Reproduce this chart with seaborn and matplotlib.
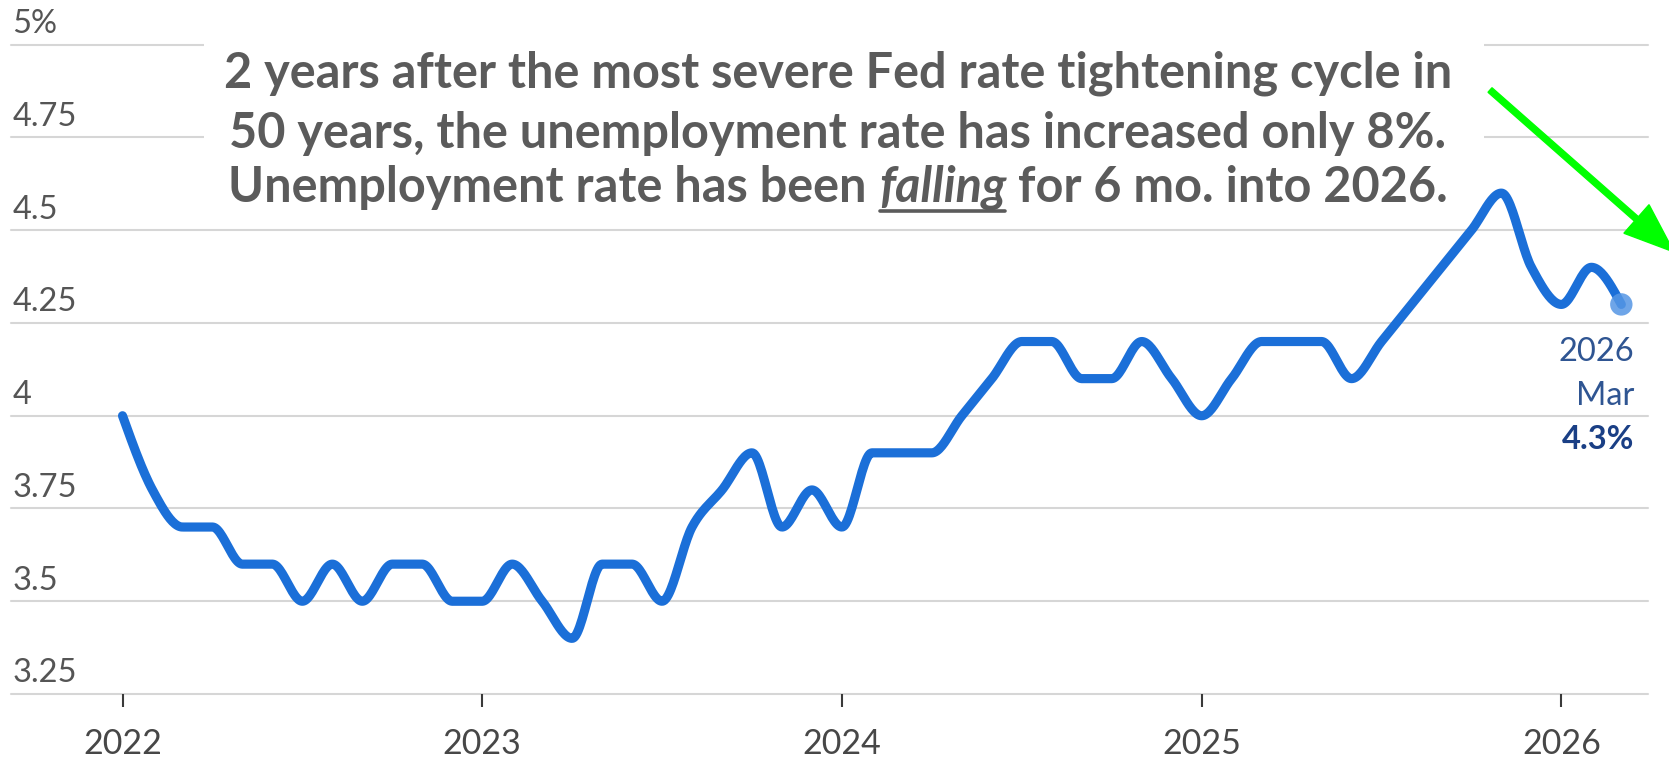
import numpy as np
import matplotlib
matplotlib.use("Agg")
import matplotlib.pyplot as plt
import seaborn as sns
from matplotlib.patches import FancyArrow, Rectangle
from matplotlib.lines import Line2D
from matplotlib.transforms import IdentityTransform

# Monthly U.S. unemployment rate (%), Jan 2022 - Mar 2026
rate = [4.0, 3.8, 3.7, 3.7, 3.6, 3.6, 3.5, 3.6, 3.5, 3.6, 3.6, 3.5,
        3.5, 3.6, 3.5, 3.4, 3.6, 3.6, 3.5, 3.7, 3.8, 3.9, 3.7, 3.8,
        3.7, 3.9, 3.9, 3.9, 4.0, 4.1, 4.2, 4.2, 4.1, 4.1, 4.2, 4.1,
        4.0, 4.1, 4.2, 4.2, 4.2, 4.1, 4.2, 4.3, 4.4, 4.5, 4.6, 4.4,
        4.3, 4.4, 4.3]
year_labels = ["2022", "2023", "2024", "2025", "2026"]
y_ticks = [3.25, 3.5, 3.75, 4.0, 4.25, 4.5, 4.75, 5.0]
y_tick_labels = ["3.25", "3.5", "3.75", "4", "4.25", "4.5", "4.75", "5%"]
last_period = ["2026", "Mar"]
last_value = "4.3%"
headline_1 = "2 years after the most severe Fed rate tightening cycle in"
headline_2 = "50 years, the unemployment rate has increased only 8%."
headline_3 = ["Unemployment rate has been", "falling", "for 6 mo. into 2026."]

LINE_BLUE = "#1b6fd8"
DOT_BLUE = "#5596e4"
GRID = "#d6d6d6"
TEXT_GREY = "#5b5b5b"
HEAD_SIZE = 35


def monotone_curve(values, samples=24):
    """Monotone cubic (d3 curveMonotoneX style) through evenly spaced points."""
    y = np.asarray(values, dtype=float)
    n = len(y)
    d = np.diff(y)
    m = np.zeros(n)
    for i in range(1, n - 1):
        s0, s1 = d[i - 1], d[i]
        p = 0.5 * (s0 + s1)
        m[i] = (np.sign(s0) + np.sign(s1)) * min(abs(s0), abs(s1), 0.5 * abs(p))
    m[0] = (3 * d[0] - m[1]) / 2
    m[-1] = (3 * d[-1] - m[-2]) / 2
    xs, ys = [], []
    t = np.linspace(0, 1, samples, endpoint=False)
    h00 = 2 * t**3 - 3 * t**2 + 1
    h10 = t**3 - 2 * t**2 + t
    h01 = -2 * t**3 + 3 * t**2
    h11 = t**3 - t**2
    for i in range(n - 1):
        xs.append(i + t)
        ys.append(h00 * y[i] + h10 * m[i] + h01 * y[i + 1] + h11 * m[i + 1])
    xs.append(np.array([n - 1.0]))
    ys.append(np.array([y[-1]]))
    return np.concatenate(xs), np.concatenate(ys)


sns.set_style("white")
plt.rcParams["font.family"] = ["Lato", "DejaVu Sans"]

W, H, DPI = 1669, 760, 100
fig = plt.figure(figsize=(W / DPI, H / DPI), dpi=DPI, facecolor="white")
ax = fig.add_axes([11 / W, 1 - 694 / H, (1648 - 11) / W, (694 - 44.7) / H])

n = len(rate)
ax.set_xlim(-3.72, 50.89)
ax.set_ylim(3.25, 5.0)

# horizontal grid
for v in y_ticks:
    ax.axhline(v, color=GRID, lw=1.5, zorder=0.5, clip_on=False)

# white panel behind the headline
ax.add_artist(Rectangle((204, H - 213), 1484 - 204, 213, transform=IdentityTransform(),
                        facecolor="white", edgecolor="none", zorder=1, clip_on=False))

xs, ys = monotone_curve(rate)
sns.lineplot(x=xs, y=ys, ax=ax, color=LINE_BLUE, linewidth=6.6, sort=False,
             estimator=None, solid_capstyle="round", solid_joinstyle="round", zorder=3)
sns.scatterplot(x=[n - 1], y=[rate[-1]], ax=ax, s=260, color=DOT_BLUE,
                edgecolor="none", alpha=0.85, zorder=4)

# y labels sit above their gridlines
for v, lab in zip(y_ticks, y_tick_labels):
    ax.annotate(lab, xy=(0, v), xycoords=("axes fraction", "data"),
                xytext=(1, 8.4), textcoords="offset points",
                ha="left", va="baseline", fontsize=23.5, color="#555555")
ax.set_yticks([])

ax.set_xticks([0, 12, 24, 36, 48], year_labels)
ax.tick_params(axis="x", length=9.4, width=1.5, color="#3a3a3a", labelsize=24.5,
               labelcolor="#474747", pad=15, direction="out", bottom=True)
for sp in ax.spines.values():
    sp.set_visible(False)

# last observation label
for lab, dy in zip(last_period, (-34, -66)):
    ax.annotate(lab, xy=(n - 1, rate[-1]), xytext=(9.5, dy), textcoords="offset points",
                ha="right", va="center", fontsize=23.5, color="#2f5592")
ax.annotate(last_value, xy=(n - 1, rate[-1]), xytext=(9.5, -97), textcoords="offset points",
            ha="right", va="center", fontsize=23.5, color="#1a3f85", fontweight="bold")

# headline
cx = 838
head_kw = dict(fontsize=HEAD_SIZE, fontweight="bold", color=TEXT_GREY, va="baseline",
               transform=IdentityTransform(), zorder=6)
fig.text(cx, H - 87, headline_1, ha="center", **head_kw)
fig.text(cx, H - 148, headline_2, ha="center", **head_kw)

renderer = fig.canvas.get_renderer()
styles = ["normal", "italic", "normal"]
pieces = []
for s, st in zip(headline_3, styles):
    t = fig.text(0, H - 202, s, ha="left", style=st, **head_kw)
    pieces.append(t)
probe_a = fig.text(0, 0, "x x", fontsize=HEAD_SIZE, fontweight="bold")
probe_b = fig.text(0, 0, "xx", fontsize=HEAD_SIZE, fontweight="bold")
space = probe_a.get_window_extent(renderer).width - probe_b.get_window_extent(renderer).width
probe_a.remove()
probe_b.remove()
widths = [p.get_window_extent(renderer).width for p in pieces]
x0 = cx - (sum(widths) + 2 * space) / 2
for p, w in zip(pieces, widths):
    p.set_x(x0)
    x0 += w + space
fx = pieces[1].get_window_extent(renderer)
fig.add_artist(Line2D([fx.x0 + 1, fx.x1 - 1], [H - 211, H - 211], transform=IdentityTransform(),
                      color=TEXT_GREY, lw=2.6, zorder=6))

# green arrow
fig.add_artist(FancyArrow(1490, H - 90, 1674 - 1490, (H - 252) - (H - 90), width=6,
                          head_width=38, head_length=50, length_includes_head=True,
                          color="#00ff00", transform=IdentityTransform(), zorder=7))

fig.savefig("out.png", dpi=DPI, facecolor="white")
